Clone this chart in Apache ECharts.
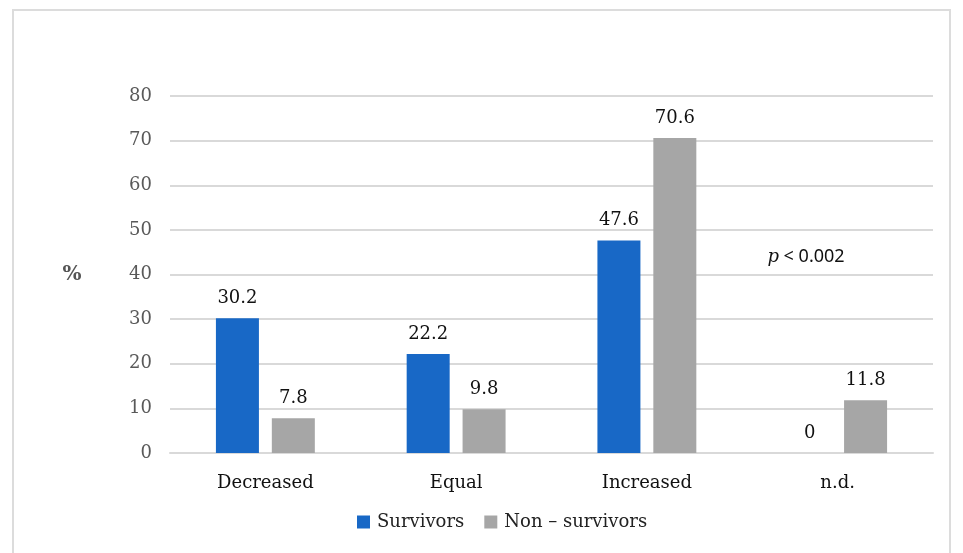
<!DOCTYPE html>
<html>
<head>
<meta charset="utf-8">
<title>Survivors vs Non-survivors</title>
<script src="https://cdn.jsdelivr.net/npm/echarts@6/dist/echarts.min.js"></script>
<style>
  html, body { margin: 0; padding: 0; background: #ffffff; }
  #chart { width: 963px; height: 553px; }
</style>
</head>
<body>
<div id="chart"></div>
<script>
// Outcome categories and group percentages
const categories = ['Decreased', 'Equal', 'Increased', 'n.d.'];
const survivors = [30.2, 22.2, 47.6, 0];
const nonSurvivors = [7.8, 9.8, 70.6, 11.8];
const seriesNames = ['Survivors', 'Non \u2013 survivors'];

const SERIF = '"DejaVu Serif", "Liberation Serif", serif';
const BLUE = '#1868c6';
const GREY = '#a6a6a6';

const chart = echarts.init(document.getElementById('chart'));

const barLabel = {
  show: true,
  position: 'top',
  distance: 11,
  color: '#111111',
  fontFamily: SERIF,
  fontSize: 18
};

chart.setOption({
  animation: false,
  backgroundColor: '#ffffff',
  grid: { left: 170, right: 30, top: 96, bottom: 100 },
  legend: {
    bottom: 17,
    left: 352,
    icon: 'rect',
    itemWidth: 13,
    itemHeight: 13,
    itemGap: 20,
    textStyle: { fontFamily: SERIF, fontSize: 18, color: '#222222', padding: [0, 0, 0, 2] },
    data: seriesNames
  },
  xAxis: {
    type: 'category',
    data: categories,
    axisTick: { show: false },
    axisLine: { lineStyle: { color: '#d9d9d9', width: 2 } },
    axisLabel: { color: '#111111', fontFamily: SERIF, fontSize: 18, margin: 21 }
  },
  yAxis: {
    type: 'value',
    min: 0,
    max: 80,
    interval: 10,
    name: '%',
    nameLocation: 'middle',
    nameRotate: 0,
    nameGap: 98,
    nameTextStyle: { color: '#555555', fontFamily: SERIF, fontSize: 20, fontWeight: 'bold', align: 'center' },
    axisLine: { show: false },
    axisTick: { show: false },
    axisLabel: { color: '#595959', fontFamily: SERIF, fontSize: 18, margin: 18 },
    splitLine: { lineStyle: { color: '#d9d9d9', width: 2 } }
  },
  series: [
    {
      name: seriesNames[0],
      type: 'bar',
      data: survivors,
      barWidth: 43,
      barGap: '30%',
      itemStyle: { color: BLUE },
      label: barLabel
    },
    {
      name: seriesNames[1],
      type: 'bar',
      data: nonSurvivors,
      barWidth: 43,
      barGap: '30%',
      itemStyle: { color: GREY },
      label: barLabel
    }
  ],
  graphic: [
    {
      // frame around the whole figure
      type: 'rect',
      silent: true,
      shape: { x: 13, y: 10, width: 937, height: 560 },
      style: { fill: 'none', stroke: '#dcdcdc', lineWidth: 2 }
    },
    {
      // significance note on a white box over the gridlines
      type: 'group',
      z: 100,
      children: [
        {
          type: 'rect',
          shape: { x: 757, y: 240, width: 123, height: 36 },
          style: { fill: '#ffffff' }
        },
        {
          type: 'text',
          x: 806,
          y: 257,
          style: {
            text: '{i|p} < 0.002',
            align: 'center',
            verticalAlign: 'middle',
            fontFamily: '"Noto Sans", "Liberation Sans", sans-serif',
            fontSize: 18,
            fill: '#111111',
            rich: {
              i: { fontFamily: SERIF, fontStyle: 'italic', fontSize: 18, fill: '#111111' }
            }
          }
        }
      ]
    }
  ]
});
</script>
</body>
</html>
